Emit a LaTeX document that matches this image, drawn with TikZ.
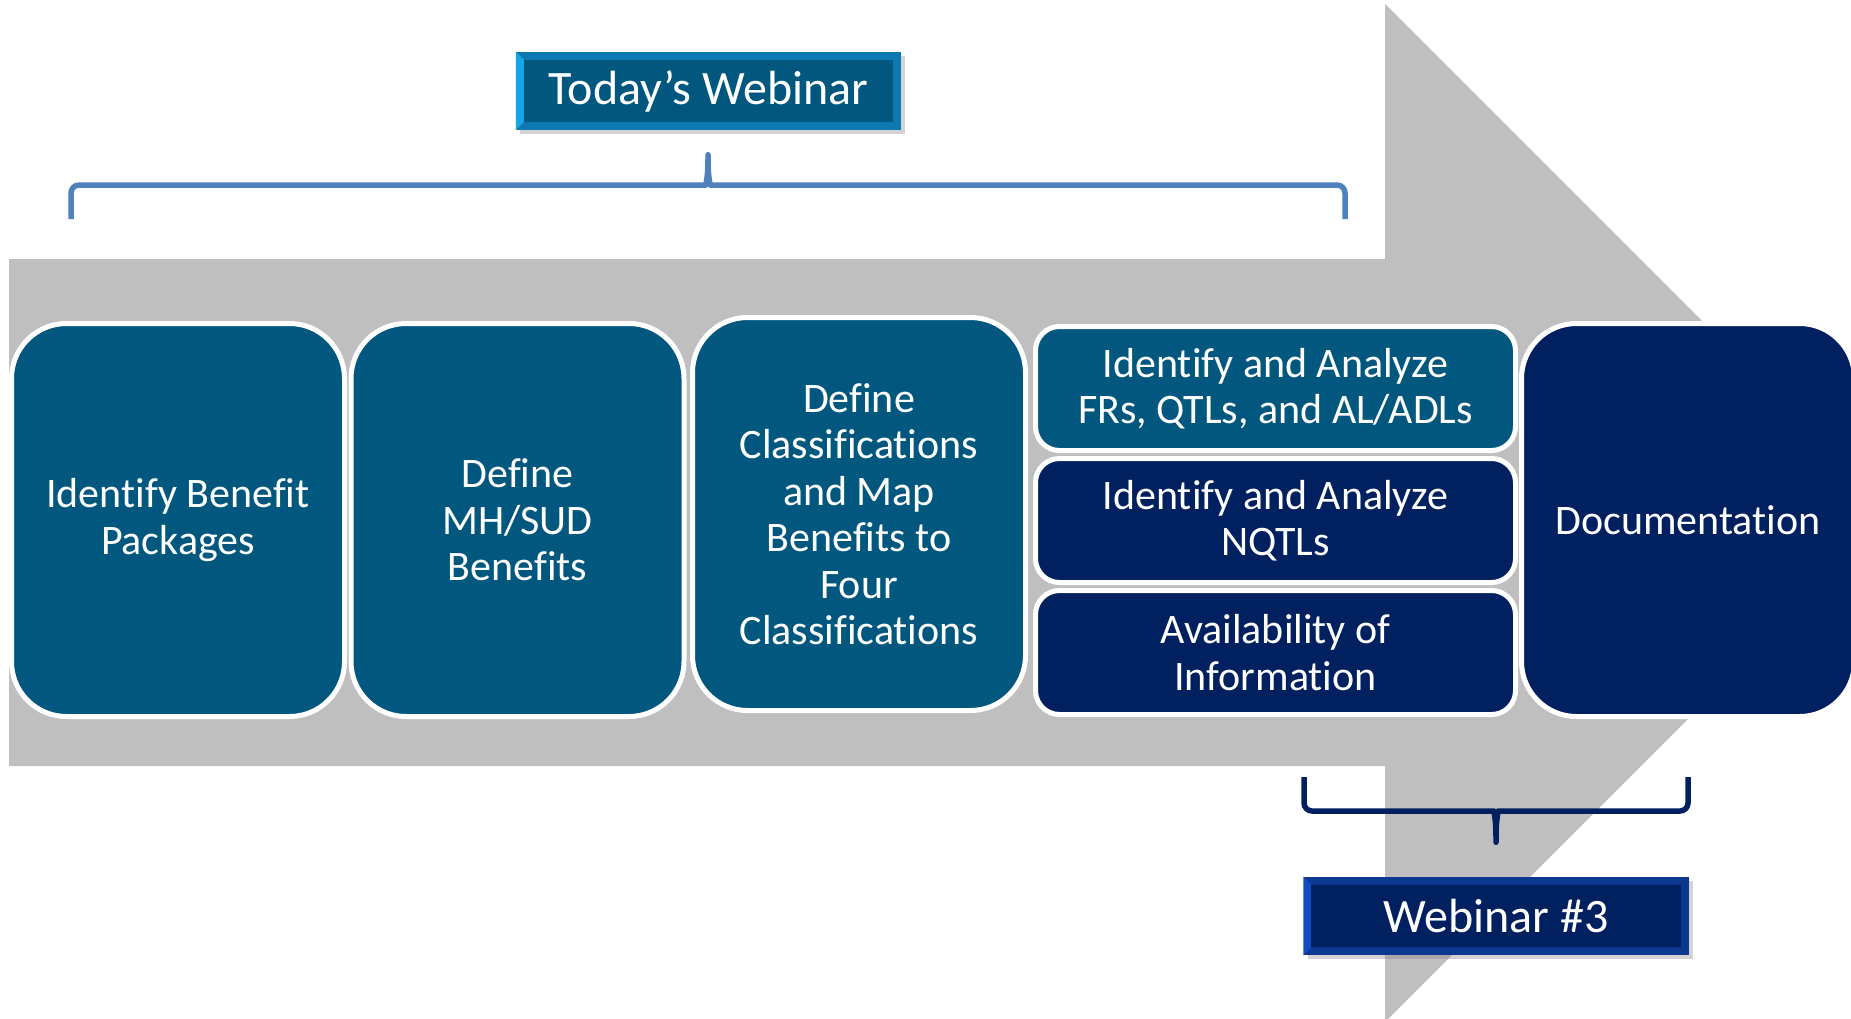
\documentclass[tikz,border=0pt]{standalone}
\usepackage{fontspec}
\setmainfont{Carlito}[Ligatures={NoCommon}]
\usetikzlibrary{positioning,shadows}

\definecolor{stageteal}{RGB}{2,87,127}
\definecolor{stagenavy}{RGB}{0,32,96}
\definecolor{arrowgray}{RGB}{191,191,191}
\definecolor{braceblue}{RGB}{79,129,189}
\definecolor{tealedge}{RGB}{14,120,176}
\definecolor{tealbright}{RGB}{22,165,230}
\definecolor{navyedge}{RGB}{12,56,145}
\definecolor{navybright}{RGB}{18,76,195}

\begin{document}
\begin{tikzpicture}[x=1pt, y=-1pt,
        stage/.style = {draw=white, line width=5pt, rounded corners=55pt, fill=stageteal, text=white, align=center,
            minimum width=333pt, minimum height=393pt, inner sep=0pt, font=\fontsize{42}{46.5}\selectfont},
        substage/.style = {stage, rounded corners=24pt, minimum width=480pt, minimum height=124pt},
        banner/.style = {minimum width=385pt, minimum height=78pt, inner sep=0pt,
            drop shadow={opacity=0.35, shadow xshift=4pt, shadow yshift=-4pt}},
        bannertext/.style = {text=white, font=\fontsize{48}{56}\selectfont},
        brace/.style = {line width=5.5pt, rounded corners=8pt, line join=round}]
        \clip (0,0) rectangle (1851,1018);

        % gray arrow in the back
        \fill[arrowgray] (9,259) -- (1385,259) -- (1385,4) -- (1894,513) -- (1385,1022) -- (1385,766) -- (9,766) -- cycle;

        \node[stage] (pkg) at (178,520) {Identify Benefit\\Packages};
        \node[stage] (mhsud) at (517.5,520) {Define\\MH/SUD\\Benefits};
        \node[stage] (classes) at (859,514) {Define\\Classifications\\and Map\\Benefits to\\Four\\Classifications};
        \node[substage] (frs) at (1275.5,388.5) {Identify and Analyze\\FRs, QTLs, and AL/ADLs};
        \node[substage, fill=stagenavy] (nqtl) [below=3pt of frs] {Identify and Analyze\\NQTLs};
        \node[substage, fill=stagenavy] (avail) [below=3pt of nqtl] {Availability of\\Information};
        \node[stage, fill=stagenavy] (doc) at (1688,520) {Documentation};

        % today's webinar
        \node[banner, fill=tealedge] (today) at (708.5,91) {};
        \fill[tealbright] (today.north west) -- ([shift={(8,8)}]today.north west) -- ([shift={(8,-8)}]today.south west) -- (today.south west) -- cycle;
        \fill[stageteal] ([shift={(8,8)}]today.north west) rectangle ([shift={(-8,-8)}]today.south east);
        \node[bannertext] (todaytxt) at (today) {Today’s Webinar};
        \draw[brace, braceblue] (71,219) -- (71,185) -- (698,185) .. controls (705,185) and (708,182) .. (708,150)
            .. controls (708,182) and (711,185) .. (718,185) -- (1345,185) -- (1345,219);

        % webinar 3
        \node[banner, fill=navyedge] (web3) at (1496,916) {};
        \fill[navybright] (web3.north west) -- ([shift={(8,8)}]web3.north west) -- ([shift={(8,-8)}]web3.south west) -- (web3.south west) -- cycle;
        \fill[stagenavy] ([shift={(8,8)}]web3.north west) rectangle ([shift={(-8,-8)}]web3.south east);
        \node[bannertext] (web3txt) at (web3) {Webinar \#3};
        \draw[brace, stagenavy] (1304,777) -- (1304,811) -- (1486,811) .. controls (1493,811) and (1496,814) .. (1496,847)
            .. controls (1496,814) and (1499,811) .. (1506,811) -- (1688,811) -- (1688,777);

    \end{tikzpicture}
\end{document}
